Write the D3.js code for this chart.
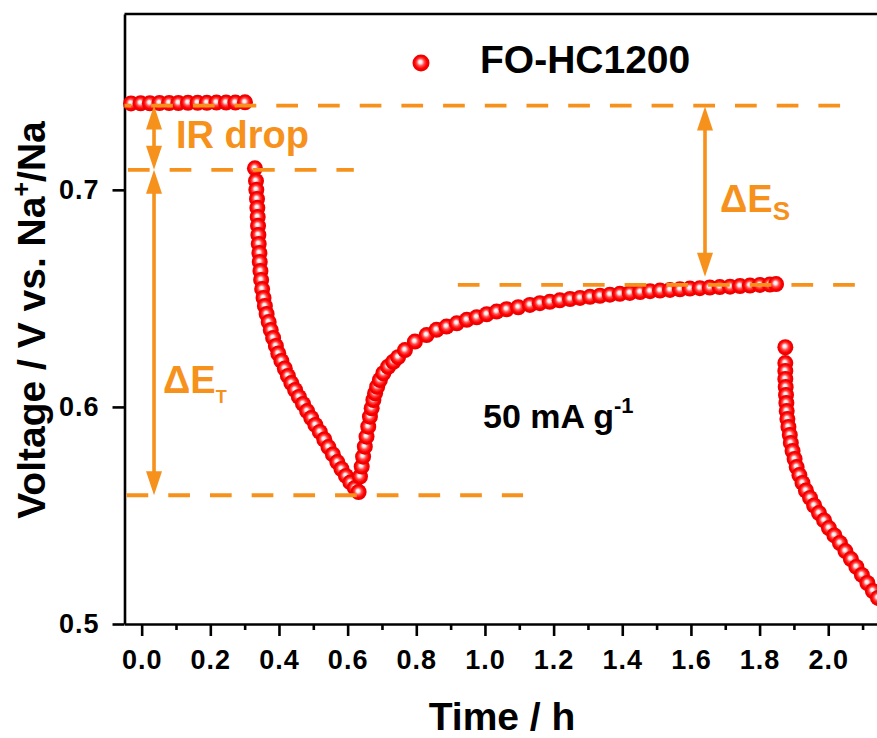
<!DOCTYPE html>
<html>
<head>
<meta charset="utf-8">
<script src="https://cdn.jsdelivr.net/npm/d3@7"></script>
<style>
  body { margin: 0; background: #fff; }
  svg { display: block; }
  text { font-family: "Liberation Sans", Arial, sans-serif; font-weight: bold; }
</style>
</head>
<body>
<svg id="chart" width="877" height="738"></svg>
<script>
// End of the preceding rest period (open-circuit voltage)
const ocvTime = [-0.031, -0.003, 0.024, 0.052, 0.080, 0.107, 0.135, 0.163, 0.190, 0.218, 0.246, 0.273, 0.301];
const ocvVolt = [0.7398, 0.7399, 0.7399, 0.7400, 0.7400, 0.7400, 0.7401, 0.7401, 0.7401, 0.7402, 0.7402, 0.7402, 0.7403];

// Current pulse (50 mA g-1)
const pulseTime = [0.330, 0.333, 0.334, 0.336, 0.337, 0.338, 0.339, 0.340, 0.341, 0.343, 0.344, 0.346, 0.348, 0.351,
  0.355, 0.359, 0.364, 0.370, 0.376, 0.383, 0.391, 0.398, 0.407, 0.417, 0.426, 0.436, 0.447, 0.458, 0.470, 0.482,
  0.494, 0.506, 0.519, 0.532, 0.544, 0.557, 0.570, 0.582, 0.595, 0.608, 0.621, 0.632];
const pulseVolt = [0.7099, 0.7041, 0.7000, 0.6958, 0.6917, 0.6875, 0.6834, 0.6792, 0.6751, 0.6709, 0.6668, 0.6626,
  0.6585, 0.6543, 0.6502, 0.6465, 0.6428, 0.6391, 0.6354, 0.6318, 0.6281, 0.6246, 0.6212, 0.6177, 0.6143, 0.6110,
  0.6078, 0.6046, 0.6014, 0.5981, 0.5949, 0.5917, 0.5885, 0.5850, 0.5815, 0.5781, 0.5746, 0.5714, 0.5682, 0.5652,
  0.5627, 0.5608];

// Relaxation after the pulse
const relaxTime = [0.636, 0.641, 0.645, 0.650, 0.655, 0.660, 0.665, 0.670, 0.675, 0.680, 0.686, 0.694, 0.704, 0.718,
  0.733, 0.747, 0.767, 0.796, 0.830, 0.859, 0.888, 0.918, 0.947, 0.976, 1.005, 1.034, 1.063, 1.097, 1.131, 1.160,
  1.189, 1.218, 1.248, 1.277, 1.306, 1.335, 1.364, 1.393, 1.422, 1.452, 1.481, 1.510, 1.539, 1.568, 1.597, 1.626,
  1.655, 1.684, 1.714, 1.743, 1.772, 1.801, 1.830, 1.848];
const relaxVolt = [0.5679, 0.5725, 0.5771, 0.5817, 0.5863, 0.5909, 0.5955, 0.5994, 0.6032, 0.6063, 0.6093, 0.6124,
  0.6155, 0.6185, 0.6208, 0.6229, 0.6262, 0.6301, 0.6331, 0.6355, 0.6370, 0.6385, 0.6401, 0.6413, 0.6427, 0.6439,
  0.6450, 0.6459, 0.6470, 0.6478, 0.6484, 0.6491, 0.6497, 0.6502, 0.6507, 0.6512, 0.6517, 0.6521, 0.6525, 0.6529,
  0.6533, 0.6536, 0.6539, 0.6542, 0.6545, 0.6547, 0.6550, 0.6552, 0.6554, 0.6557, 0.6559, 0.6562, 0.6564, 0.6566];

// Next current pulse
const nextTime = [1.875, 1.875, 1.875, 1.875, 1.876, 1.877, 1.878, 1.879, 1.881, 1.884, 1.888, 1.891, 1.896, 1.902,
  1.908, 1.916, 1.925, 1.935, 1.947, 1.959, 1.973, 1.988, 2.002, 2.018, 2.034, 2.050, 2.066, 2.082, 2.098, 2.114,
  2.130, 2.145];
const nextVolt = [0.6275, 0.6202, 0.6166, 0.6129, 0.6092, 0.6055, 0.6018, 0.5981, 0.5944, 0.5908, 0.5871, 0.5834,
  0.5797, 0.5760, 0.5723, 0.5686, 0.5650, 0.5615, 0.5581, 0.5546, 0.5511, 0.5477, 0.5442, 0.5408, 0.5373, 0.5336,
  0.5299, 0.5263, 0.5226, 0.5189, 0.5152, 0.5120];

// Reference voltage levels (dashed guides): level, start time, end time
const refVolt  = [0.7388, 0.7092, 0.5593, 0.6562];
const refStart = [-0.050, -0.040, -0.044, 0.921];
const refEnd   = [2.040, 0.618, 1.111, 2.084];

// Double arrows: time position, upper and lower voltage
const arrowTime  = [0.036, 0.036, 1.641];
const arrowTop   = [0.7388, 0.7092, 0.7384];
const arrowBot   = [0.7092, 0.5593, 0.6600];

// Tick values
const xMajor = [0.0, 0.2, 0.4, 0.6, 0.8, 1.0, 1.2, 1.4, 1.6, 1.8, 2.0];
const xMinor = [0.1, 0.3, 0.5, 0.7, 0.9, 1.1, 1.3, 1.5, 1.7, 1.9, 2.1];
const yMajor = [0.5, 0.6, 0.7];

const ORANGE = "#f6911c";
const svg = d3.select("#chart");

const x = d3.scaleLinear().domain([-0.05, 2.2]).range([124.5, 896.9]);
const y = d3.scaleLinear().domain([0.5, 0.781]).range([624, 14]);

// Marker shading
const defs = svg.append("defs");
const grad = defs.append("radialGradient").attr("id", "pearl")
  .attr("cx", "50%").attr("cy", "50%").attr("r", "50%").attr("fx", "45%").attr("fy", "42%");
[[0, "#ffffff"], [0.2, "#ffe6e6"], [0.45, "#ff4a4a"], [0.72, "#ff0000"], [1, "#e40000"]]
  .forEach(([o, c]) => grad.append("stop").attr("offset", o).attr("stop-color", c));

// Axes
svg.append("g").attr("transform", `translate(0,${y(0.5)})`)
  .call(d3.axisBottom(x).tickValues(xMajor).tickSize(12).tickSizeOuter(0).tickPadding(14)
    .tickFormat(d3.format(".1f")));
svg.append("g").attr("transform", `translate(0,${y(0.5)})`)
  .call(d3.axisBottom(x).tickValues(xMinor).tickSize(6).tickSizeOuter(0).tickFormat(""))
  .select(".domain").remove();
svg.append("g").attr("transform", `translate(${x(-0.05)},0)`)
  .call(d3.axisLeft(y).tickValues(yMajor).tickSize(12).tickSizeOuter(0).tickPadding(13)
    .tickFormat(d3.format(".1f")));
svg.selectAll(".domain, .tick line").attr("stroke", "#000").attr("stroke-width", 2.6);
svg.selectAll(".tick text").attr("font-size", 27).attr("fill", "#000")
  .attr("font-family", "Liberation Sans, Arial, sans-serif").attr("font-weight", "bold")
  .attr("letter-spacing", 1);
// Top frame
svg.append("line").attr("x1", x(-0.05)).attr("x2", x(2.2)).attr("y1", y(0.781)).attr("y2", y(0.781))
  .attr("stroke", "#000").attr("stroke-width", 2.6);

// Data markers
const segments = [[ocvTime, ocvVolt], [pulseTime, pulseVolt], [relaxTime, relaxVolt], [nextTime, nextVolt]];
const pts = svg.append("g");
segments.forEach(([ts, vs]) => {
  pts.selectAll(null).data(ts.map((t, i) => [t, vs[i]])).enter().append("circle")
    .attr("cx", d => x(d[0])).attr("cy", d => y(d[1])).attr("r", 8).attr("fill", "url(#pearl)");
});

// Dashed reference levels
svg.append("g").selectAll("line").data(refVolt).enter().append("line")
  .attr("x1", (d, i) => x(refStart[i])).attr("x2", (d, i) => x(refEnd[i]))
  .attr("y1", d => y(d)).attr("y2", d => y(d))
  .attr("stroke", ORANGE).attr("stroke-width", 3.8).attr("stroke-dasharray", "21.7 20")
  .attr("stroke-dashoffset", (d, i) => i === 0 ? 15 : 0);

// Double-headed arrows
const arrows = svg.append("g");
arrowTime.forEach((t, i) => {
  const ax = x(t), y1 = y(arrowTop[i]), y2 = y(arrowBot[i]);
  const hl = 24, hw = 8;
  arrows.append("line").attr("x1", ax).attr("x2", ax).attr("y1", y1 + hl - 2).attr("y2", y2 - hl + 2)
    .attr("stroke", ORANGE).attr("stroke-width", 3.6);
  arrows.append("path").attr("d", `M${ax},${y1} L${ax - hw},${y1 + hl} L${ax + hw},${y1 + hl} Z`).attr("fill", ORANGE);
  arrows.append("path").attr("d", `M${ax},${y2} L${ax - hw},${y2 - hl} L${ax + hw},${y2 - hl} Z`).attr("fill", ORANGE);
});

// Annotations
svg.append("text").attr("x", 176).attr("y", 148).attr("font-size", 38).attr("fill", ORANGE).text("IR drop");

const eT = svg.append("text").attr("x", 163).attr("y", 393).attr("font-size", 38).attr("fill", ORANGE);
eT.append("tspan").text("ΔE");
eT.append("tspan").attr("font-size", 18).attr("dy", 10).text("T");

const eS = svg.append("text").attr("x", 720).attr("y", 212).attr("font-size", 38).attr("fill", ORANGE);
eS.append("tspan").text("ΔE");
eS.append("tspan").attr("font-size", 26).attr("dy", 8).text("S");

const cur = svg.append("text").attr("x", 483).attr("y", 428).attr("font-size", 34).attr("fill", "#000");
cur.append("tspan").text("50 mA g");
cur.append("tspan").attr("font-size", 22).attr("dy", -15).text("-1");

// Legend
svg.append("circle").attr("cx", 421).attr("cy", 63).attr("r", 8.5).attr("fill", "url(#pearl)");
svg.append("text").attr("x", 480).attr("y", 73).attr("font-size", 39).attr("fill", "#000").text("FO-HC1200");

// Axis titles
svg.append("text").attr("x", 502).attr("y", 730).attr("font-size", 39).attr("text-anchor", "middle")
  .attr("fill", "#000").text("Time / h");
const yt = svg.append("text").attr("transform", "translate(45,320) rotate(-90)")
  .attr("font-size", 39).attr("text-anchor", "middle").attr("fill", "#000");
yt.append("tspan").text("Voltage / V vs. Na");
yt.append("tspan").attr("font-size", 25).attr("dy", -15).text("+");
yt.append("tspan").attr("dy", 15).text("/Na");
</script>
</body>
</html>
